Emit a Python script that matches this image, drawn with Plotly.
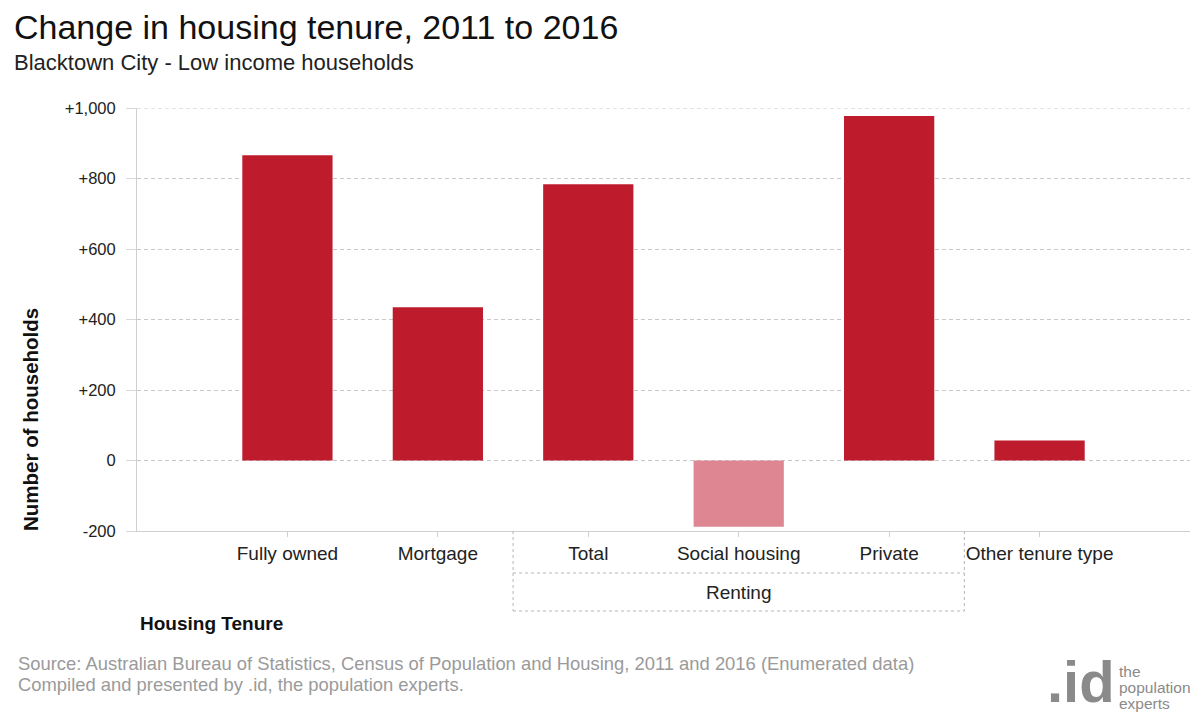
import plotly.graph_objects as go

# data
categories = ["Fully owned", "Mortgage", "Total", "Social housing", "Private", "Other tenure type"]
changes = [866, 435, 784, -188, 977, 57]
bar_colors = ["#BE1C2D", "#BE1C2D", "#BE1C2D", "#DE8793", "#BE1C2D", "#BE1C2D"]
y_ticks = [-200, 0, 200, 400, 600, 800, 1000]
y_tick_labels = ["-200", "0", "+200", "+400", "+600", "+800", "+1,000"]
group_label = "Renting"
group_span = [1.5, 4.5]

font = "Liberation Sans, Arial, sans-serif"
x_pos = list(range(len(categories)))

# page is drawn with an 8px body margin, so the figure is 8px smaller
OFF = 8
# plot area in page pixels: x 137..1190, y 108..531
L, R, T, B = 137, 1190, 108, 531


def px_x(px):
    return (px - L) / (R - L)


def px_y(py):
    return (B - py) / (B - T)


fig = go.Figure()
fig.add_trace(go.Bar(x=x_pos, y=changes, marker=dict(color=bar_colors, line=dict(width=0)),
                     width=0.6, showlegend=False))

fig.update_xaxes(range=[-1, 6], tickvals=x_pos, ticktext=categories,
                 showgrid=False, zeroline=False, showline=True, linecolor="#CFCFCF", linewidth=1,
                 ticks="outside", ticklen=5, tickcolor="#CFCFCF",
                 tickfont=dict(family=font, size=19, color="#222"))
fig.update_yaxes(range=[-200, 1000], tickvals=y_ticks, ticktext=y_tick_labels,
                 showgrid=True, gridcolor="#C8C8C8", griddash="4px,3px", gridwidth=1,
                 zeroline=False, showline=True, linecolor="#CFCFCF", linewidth=1,
                 ticks="outside", ticklen=10, tickcolor="#D8D8D8", ticklabelstandoff=7,
                 tickfont=dict(family=font, size=16.5, color="#222"))

# top gridline sits on the plot edge, draw it explicitly
fig.add_shape(type="line", xref="paper", yref="y", x0=0, x1=1, y0=y_ticks[-1], y1=y_ticks[-1],
              line=dict(color="#C8C8C8", width=1, dash="4px,3px"))

# grouping box for "Renting"
box = dict(color="#B5B5B5", width=1, dash="dot")
fig.add_shape(type="line", xref="x", yref="paper", x0=group_span[0], x1=group_span[0], y0=0, y1=px_y(611), line=box)
fig.add_shape(type="line", xref="x", yref="paper", x0=group_span[1], x1=group_span[1], y0=0, y1=px_y(611), line=box)
fig.add_shape(type="line", xref="x", yref="paper", x0=group_span[0], x1=group_span[1], y0=px_y(573), y1=px_y(573), line=box)
fig.add_shape(type="line", xref="x", yref="paper", x0=group_span[0], x1=group_span[1], y0=px_y(611), y1=px_y(611), line=box)
fig.add_annotation(x=sum(group_span) / 2, xref="x", y=px_y(592), yref="paper", text=group_label,
                   showarrow=False, yanchor="middle", font=dict(family=font, size=19, color="#222"))

# y axis title, placed lower than centre as in the original
fig.add_annotation(x=px_x(30), xref="paper", y=px_y(420), yref="paper", text="<b>Number of households</b>",
                   textangle=-90, showarrow=False, xanchor="center", yanchor="middle",
                   font=dict(family=font, size=20.5, color="#111"))

annos = [
    dict(x=13, y=27, text="Change in housing tenure, 2011 to 2016", size=34, color="#111"),
    dict(x=13, y=62, text="Blacktown City - Low income households", size=22, color="#222"),
    dict(x=139, y=623, text="<b>Housing Tenure</b>", size=19, color="#111"),
    dict(x=17, y=663, text="Source: Australian Bureau of Statistics, Census of Population and Housing, 2011 and 2016 (Enumerated data)", size=18.4, color="#9A9A9A"),
    dict(x=17, y=684, text="Compiled and presented by .id, the population experts.", size=18.4, color="#9A9A9A"),
    dict(x=1046, y=681, text="<b>.id</b>", size=58, color="#8A8A8A"),
    dict(x=1118, y=671, text="the", size=15.5, color="#8A8A8A"),
    dict(x=1118, y=687, text="population", size=15.5, color="#8A8A8A"),
    dict(x=1118, y=703, text="experts", size=15.5, color="#8A8A8A"),
]
for a in annos:
    fig.add_annotation(x=px_x(a["x"]), xref="paper", y=px_y(a["y"]), yref="paper",
                       xanchor="left", yanchor="middle", text=a["text"], showarrow=False,
                       borderpad=0, font=dict(family=font, size=a["size"], color=a["color"]))

fig.update_layout(width=1200 - OFF, height=714 - OFF,
                  margin=dict(l=L - OFF, r=1200 - R, t=T - OFF, b=714 - B),
                  plot_bgcolor="white", paper_bgcolor="white")

fig.write_html("out.html")
